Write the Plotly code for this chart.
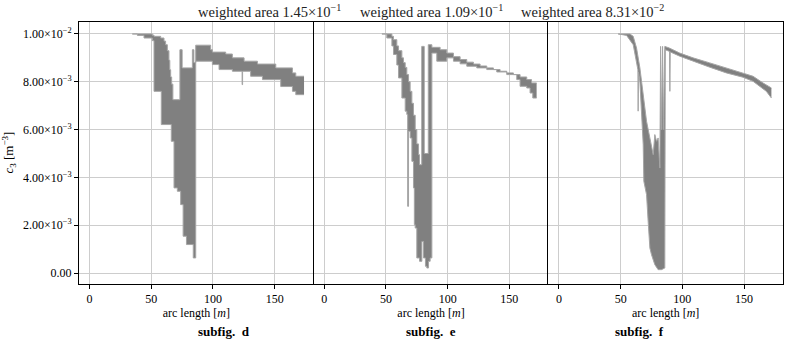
import plotly.graph_objects as go
from plotly.subplots import make_subplots

# panel d: envelope of c3 along the arc length (step-like)
d_upper_x = [34.6, 50.8, 52.2, 57.6, 60.3, 61.6, 63.0, 64.3, 65.0, 65.7, 66.5, 67.5,
             73.2, 75.0, 83.3, 84.5, 86.0, 98.1, 99.5, 110.3, 115.7, 125.2, 136.0,
             150.9, 164.4, 167.1, 173.8]
d_upper_y = [0.0100, 0.00995, 0.0099, 0.00983, 0.0097, 0.00955, 0.0093, 0.0089, 0.0085,
             0.0082, 0.0079, 0.00725, 0.00934, 0.00858, 0.00934, 0.0088, 0.00953, 0.00934,
             0.00924, 0.00916, 0.0090, 0.00886, 0.00874, 0.00858, 0.00837, 0.00823, 0.00823]
d_lower_x = [34.6, 38.7, 44.1, 50.8, 52.2, 58.1, 66.2, 68.4, 71.1, 73.8, 75.8, 78.5,
             84.0, 86.0, 99.5, 104.9, 115.7, 123.6, 124.0, 130.5, 140.1, 154.9, 164.4,
             167.1, 173.8]
d_lower_y = [0.0100, 0.00994, 0.00983, 0.00972, 0.0076, 0.00621, 0.00551, 0.00356,
             0.00342, 0.00286, 0.00154, 0.00119, 0.00063, 0.00886, 0.00872, 0.00851,
             0.00844, 0.00788, 0.00844, 0.00823, 0.00809, 0.0078, 0.0076, 0.00746, 0.00746]

# panel e
e_upper_x = [46.7, 54.8, 56.1, 58.8, 60.2, 62.9, 64.2, 65.6, 66.9, 68.3, 69.6, 71.0,
             72.3, 73.7, 75.0, 76.4, 77.2, 79.0, 81.0, 84.3, 87.2, 93.9, 99.3, 104.7,
             110.1, 115.5, 120.9, 126.3, 131.7, 137.1, 142.5, 147.9, 153.3, 158.7,
             164.1, 168.0, 172.1]
e_upper_y = [0.0100, 0.0099, 0.00976, 0.0095, 0.0093, 0.0090, 0.0088, 0.0086, 0.0083,
             0.0080, 0.0076, 0.0071, 0.0066, 0.0060, 0.0054, 0.00495, 0.00453, 0.00948,
             0.0050, 0.00955, 0.00944, 0.00934, 0.0092, 0.00905, 0.00893, 0.00882,
             0.00874, 0.00866, 0.00858, 0.00851, 0.00844, 0.00837, 0.0083, 0.0082,
             0.00809, 0.00795, 0.00795]
e_lower_x = [46.7, 50.7, 54.8, 56.1, 58.8, 60.2, 62.9, 65.6, 66.9, 67.6, 68.3, 69.6,
             71.0, 72.3, 73.0, 73.7, 75.0, 77.2, 79.1, 80.4, 82.0, 83.1, 84.5, 85.8,
             87.2, 91.2, 99.3, 104.7, 110.1, 115.5, 123.6, 131.7, 139.8, 147.9, 156.0,
             158.7, 164.1, 166.8, 169.0, 172.1]
e_lower_y = [0.0100, 0.00983, 0.0095, 0.00914, 0.0087, 0.00816, 0.00732, 0.00677,
             0.00663, 0.00279, 0.00593, 0.00565, 0.00467, 0.00356, 0.00202, 0.00188,
             0.00063, 0.00049, 0.00132, 0.00063, 0.00028, 0.00021, 0.00049, 0.00063,
             0.0092, 0.00886, 0.0090, 0.00886, 0.00875, 0.00865, 0.00858, 0.00851,
             0.00841, 0.0083, 0.00809, 0.00781, 0.00774, 0.00753, 0.00732, 0.00732]

# panel f (smoother envelope)
f_upper_x = [48.0, 57.5, 60.2, 62.9, 65.6, 68.3, 71.0, 73.7, 76.4, 77.7, 79.1, 80.4,
             81.8, 82.4, 83.1, 84.0, 84.6, 85.8, 89.5, 97.9, 108.7, 122.2, 135.7,
             149.2, 157.3, 165.4, 172.2]
f_upper_y = [0.0100, 0.0100, 0.0099, 0.00941, 0.00858, 0.00746, 0.00635, 0.00565,
             0.00495, 0.00579, 0.00551, 0.00565, 0.00439, 0.00948, 0.0060, 0.00948,
             0.0060, 0.00948, 0.00941, 0.0092, 0.0090, 0.00879, 0.00858, 0.00837,
             0.00823, 0.00795, 0.00774]
f_lower_x = [48.0, 54.8, 60.2, 62.9, 64.0, 64.2, 64.5, 65.6, 66.9, 68.3, 68.8, 71.0,
             72.3, 73.7, 75.0, 77.7, 80.4, 83.1, 85.8, 86.2, 89.6, 89.9, 90.2, 97.9,
             108.7, 122.2, 135.7, 149.2, 157.3, 162.7, 168.1, 172.2]
f_lower_y = [0.0100, 0.00994, 0.00955, 0.00886, 0.0085, 0.00677, 0.0084, 0.0080,
             0.00677, 0.00537, 0.00384, 0.00328, 0.00216, 0.00105, 0.00077, 0.00035,
             0.00014, 0.00014, 0.00021, 0.00934, 0.00927, 0.0076, 0.00925, 0.00907,
             0.00886, 0.00861, 0.00837, 0.00819, 0.00802, 0.00781, 0.0076, 0.00732]

panels = [
    (d_upper_x, d_upper_y, d_lower_x, d_lower_y, "hv"),
    (e_upper_x, e_upper_y, e_lower_x, e_lower_y, "hv"),
    (f_upper_x, f_upper_y, f_lower_x, f_lower_y, "linear"),
]
titles = ["1.45", "1.09", "8.31"]
exponents = ["−1", "−1", "−2"]
subfig_labels = ["d", "e", "f"]

y_ticks = [0.0, 0.002, 0.004, 0.006, 0.008, 0.010]
y_ticktext = ["0.00", "2.00×10<sup>−3</sup>", "4.00×10<sup>−3</sup>",
              "6.00×10<sup>−3</sup>", "8.00×10<sup>−3</sup>", "1.00×10<sup>−2</sup>"]
x_ticks = [0, 50, 100, 150]

FONT = "Liberation Serif"
FILL = "rgb(128,128,128)"
EDGE = "rgb(165,165,165)"
GRID = "rgb(205,205,205)"

fig = make_subplots(rows=1, cols=3, shared_yaxes=True, horizontal_spacing=0)

for i, (ux, uy, lx, ly, shape) in enumerate(panels):
    col = i + 1
    fig.add_trace(
        go.Scatter(x=lx, y=ly, mode="lines", line=dict(color=EDGE, width=1, shape=shape),
                   showlegend=False, hoverinfo="skip"),
        row=1, col=col,
    )
    fig.add_trace(
        go.Scatter(x=ux, y=uy, mode="lines", line=dict(color=EDGE, width=1, shape=shape),
                   fill="tonexty", fillcolor=FILL, showlegend=False, hoverinfo="skip"),
        row=1, col=col,
    )
    fig.update_xaxes(
        range=[-8.6, 181.6], tickvals=x_ticks, ticks="outside", ticklen=4,
        tickcolor="black", showgrid=True, gridcolor=GRID, gridwidth=1,
        showline=True, linecolor="black", linewidth=1, mirror=True, zeroline=False,
        automargin=False,
        title=dict(text="arc length [<i>m</i>]", font=dict(size=12), standoff=0),
        row=1, col=col,
    )
    fig.update_yaxes(
        range=[-0.00046, 0.0105], tickvals=y_ticks, ticktext=y_ticktext,
        ticks="outside" if col == 1 else "", ticklen=4, tickcolor="black",
        showticklabels=(col == 1), showgrid=True, gridcolor=GRID, gridwidth=1,
        showline=True, linecolor="black", linewidth=1, mirror=(col == 3),
        zeroline=False, automargin=False,
        row=1, col=col,
    )
    xc = (i + 0.5) / 3
    fig.add_annotation(
        x=xc, y=1.0, xref="paper", yref="paper", yanchor="bottom", showarrow=False,
        text=f"weighted area {titles[i]}×10<sup>{exponents[i]}</sup>",
        font=dict(size=14.5, color="#222"),
    )
    fig.add_annotation(
        x=xc, y=-0.183, xref="paper", yref="paper", yanchor="middle", showarrow=False,
        text=f"<b>subfig.  {subfig_labels[i]}</b>", font=dict(size=13, color="black"),
    )

fig.add_annotation(
    x=-0.1, y=0.5, xref="paper", yref="paper", xanchor="center", yanchor="middle",
    textangle=-90, showarrow=False,
    text="<i>c</i><sub>3</sub> [m<sup>−3</sup>]", font=dict(size=13, color="black"),
)

fig.update_layout(
    width=789, height=343,
    margin=dict(l=79, r=6, t=22, b=59),
    plot_bgcolor="white", paper_bgcolor="white",
    font=dict(family=FONT, size=12, color="black"),
)

# drop the browser's default body margin so the figure sits at the page corner
fig.write_html(
    "out.html",
    config={"displayModeBar": False},
    post_script="document.body.style.margin = '0';",
)
